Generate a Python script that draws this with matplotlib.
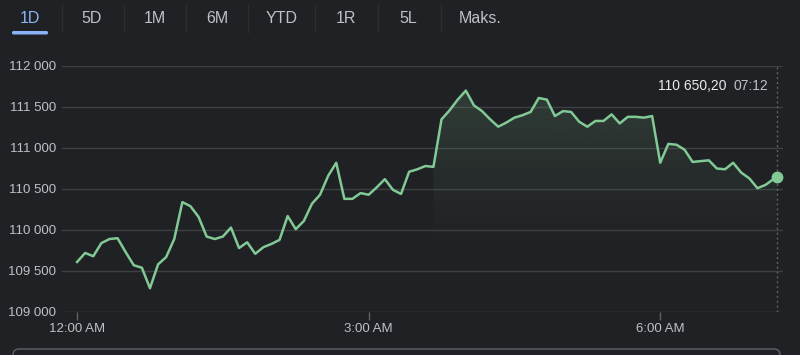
import matplotlib.pyplot as plt
import numpy as np
from matplotlib.patches import FancyBboxPatch

plt.rcParams['font.family'] = ['Liberation Sans', 'DejaVu Sans']

# data (minutes since midnight, price)
minutes = list(range(0, 430, 5)) + [432]
prices = [109610, 109720, 109680, 109840, 109890, 109900, 109730, 109570, 109540, 109290,
          109580, 109670, 109890, 110340, 110290, 110160, 109920, 109890, 109920, 110030,
          109780, 109850, 109710, 109790, 109830, 109880, 110170, 110010,
          110110, 110320, 110430, 110660, 110820, 110380, 110380, 110450, 110430, 110520,
          110620, 110490, 110440, 110710, 110740, 110780, 110770, 111350, 111460, 111590,
          111700, 111520, 111450, 111350, 111260, 111310, 111370, 111400, 111440,
          111610, 111590, 111390, 111450, 111440, 111320, 111260, 111330, 111330, 111410,
          111300, 111380, 111380, 111370, 111390, 110820, 111050, 111040, 110980, 110830,
          110840, 110850, 110750, 110740, 110820, 110700, 110630, 110510, 110550, 110650.20]
fill_from = 44  # shaded area starts here

yticks = [109000, 109500, 110000, 110500, 111000, 111500, 112000]
ylabels = ['109 000', '109 500', '110 000', '110 500', '111 000', '111 500', '112 000']
xticks = [0, 180, 360]
xlabels = ['12:00 AM', '3:00 AM', '6:00 AM']
tabs = ['1D', '5D', '1M', '6M', 'YTD', '1R', '5L', 'Maks.']
tab_x = [30, 92, 155, 217, 282, 346, 408, 480]
tooltip_value = '110 650,20'
tooltip_time = '07:12'

bg = '#202124'
green = '#81c995'
grid = '#3c4043'
txt = '#bdc1c6'

W, H = 800, 355
fig = plt.figure(figsize=(8, 3.55), dpi=100, facecolor=bg)

# overlay in pixel coords
deco = fig.add_axes([0, 0, 1, 1])
deco.set_xlim(0, W)
deco.set_ylim(H, 0)
deco.axis('off')

for i, t in enumerate(tabs):
    deco.text(tab_x[i], 18.5, t, color='#8ab4f8' if i == 0 else txt, fontsize=11.5,
              ha='center', va='center')
for sx in [62, 124, 186, 248, 315, 378, 441]:
    deco.plot([sx, sx], [5, 32], color='#2d2e31', lw=1)
deco.add_patch(FancyBboxPatch((12, 31), 36, 3.5, boxstyle='round,pad=0,rounding_size=1.5',
                              fc='#8ab4f8', ec='none'))
deco.add_patch(FancyBboxPatch((13, 349), 767, 20, boxstyle='round,pad=0,rounding_size=6',
                              fc='none', ec='#5f6368', lw=1))

# main chart
ax = fig.add_axes([62 / W, (H - 312) / H, 721 / W, 246 / H])
ax.set_facecolor(bg)
for s in ax.spines.values():
    s.set_visible(False)
ax.set_yticks(yticks)
ax.set_yticklabels(ylabels)
ax.set_xticks(xticks)
ax.set_xticklabels(xlabels)
ax.tick_params(axis='y', length=0, pad=4, labelsize=9.5, labelcolor=txt)
ax.tick_params(axis='x', length=6, width=1, color='#5f6368', pad=2, labelsize=9.5,
               labelcolor=txt)
ax.grid(axis='y', color=grid, lw=1)
ax.set_axisbelow(True)

x = np.array(minutes)
y = np.array(prices)

# gradient fill under the line
poly = ax.fill_between(x[fill_from:], y[fill_from:], 109000, color='none', lw=0)
rgba = np.zeros((256, 1, 4))
rgba[..., 0], rgba[..., 1], rgba[..., 2] = 0x81 / 255, 0xc9 / 255, 0x95 / 255
rgba[..., 3] = np.linspace(0.26, 0.0, 256).reshape(-1, 1) ** 1.3
img = ax.imshow(rgba, aspect='auto', extent=[x[fill_from], x[-1], 109700, 111700],
                origin='upper', zorder=1)
img.set_clip_path(poly.get_paths()[0], transform=ax.transData)
ax.set_xlim(-9.3, 435.8)
ax.set_ylim(109000, 112000)

ax.plot(x, y, color=green, lw=1.8, zorder=3, solid_joinstyle='round')
ax.axvline(x[-1], color='#5f6368', lw=1, ls=(0, (1.5, 2)), zorder=2)
ax.plot(x[-1], y[-1], 'o', ms=7.5, color=green, zorder=4)

deco.text(727, 86, tooltip_value, color='#e8eaed', fontsize=10, ha='right', va='center')
deco.text(734, 86, tooltip_time, color=txt, fontsize=10, ha='left', va='center')
deco.set_zorder(5)

fig.savefig('out.png', dpi=100, facecolor=bg)
